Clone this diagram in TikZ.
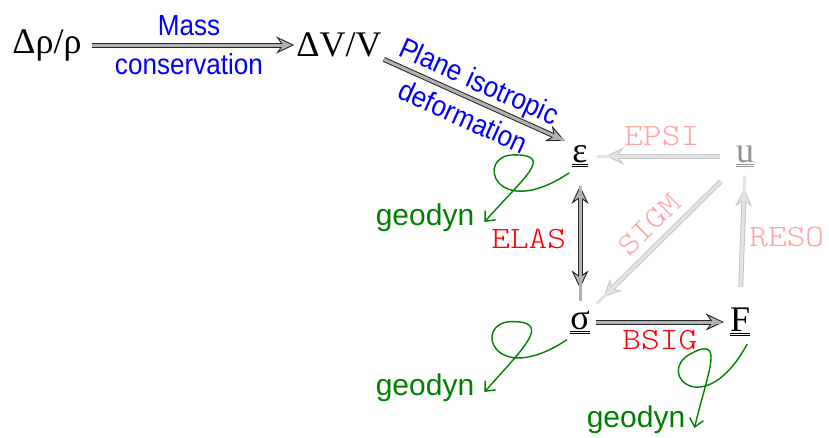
\documentclass[tikz,border=0pt]{standalone}
\usepackage{fontspec}
\setmainfont{Liberation Serif}
\newfontfamily\lblfont[FakeStretch=0.9]{Liberation Sans}
\newfontfamily\geofont{Liberation Sans}
\newfontfamily\codefont[FakeStretch=1.15]{Latin Modern Mono Light}
\usetikzlibrary{arrows.meta}
\definecolor{geogreen}{RGB}{0,128,0}
\definecolor{pinkish}{RGB}{255,165,165}
\tikzset{
  sym/.style={font=\fontsize{36}{40}\selectfont, inner sep=2pt},
  lbl/.style={font=\lblfont\fontsize{29}{39}\selectfont, text=blue, align=center},
  code/.style={font=\codefont\fontsize{31}{36}\selectfont, text=red},
  faintcode/.style={code, text=pinkish},
  darktip/.tip={Stealth[length=18pt,width=17pt,inset=6pt,fill=gray!60,line width=0.9pt]},
  palettip/.tip={Stealth[length=18pt,width=17pt,inset=6pt,fill=gray!22,line width=0.9pt]},
  flow/.style={draw=black!85, line width=5pt, -darktip,
    postaction={draw=gray!60, line width=3pt, -, shorten >=7pt}},
  faint/.style={draw=gray!45, line width=5pt, -palettip,
    postaction={draw=gray!22, line width=3pt, -, shorten >=7pt}},
  geo/.style={draw=geogreen, line width=1.4pt, -{Straight Barb[length=8pt,width=14pt]}},
  geolbl/.style={font=\geofont\fontsize{30}{34}\selectfont, text=geogreen, inner sep=0pt}
}
\newcommand{\dul}[1]{\underline{\underline{#1}}}

\begin{document}
\begin{tikzpicture}[x=1pt,y=-1pt]
\useasboundingbox (0,0) rectangle (829,437);
% quantities
\node[sym] (rho) at (47,45) {Δρ/ρ};
\node[sym] (dv) at (339,45) {ΔV/V};
\node[sym] (eps) at (580,156) {\dul{ε}};
\node[sym,text=gray!85] (u) at (745,156) {\dul{u}};
\node[sym] (sig) at (580,322) {\dul{σ}};
\node[sym] (F) at (740,322) {\dul{F}};
% geodyn
\node[geolbl] (g1) at (425,218) {geodyn};
\node[geolbl] (g2) at (425,388) {geodyn};
\node[geolbl] (g3) at (636,420) {geodyn};
% main chain
\draw[flow,shorten <=8pt] (rho.east) -- (dv.west) node[midway,lbl] {Mass\\conservation};
\draw[flow,shorten >=6pt] (dv.south east) -- (eps.north west)
  node[pos=0.47,sloped,lbl] {Plane isotropic\\deformation};
\draw[flow,darktip-darktip,shorten <=17pt,shorten >=20pt,
  postaction={draw=gray!60, line width=3pt, -, shorten <=24pt, shorten >=27pt}] (eps.south) -- (sig.north)
  node[midway,left=8pt,code] {ELAS};
\draw[flow,shorten <=4pt,shorten >=4pt] (sig.east) -- (F.west) node[midway,below=2pt,code] {BSIG};
% faint ones
\draw[faint,shorten <=14pt,shorten >=16pt] (u.west) -- (eps.east) node[midway,above=4pt,faintcode] {EPSI};
\draw[faint,shorten <=18pt,shorten >=16pt] (u.south west) -- (sig.north east)
  node[midway,sloped,above=4pt,faintcode] {SIGM};
\draw[faint,shorten <=19pt,shorten >=20pt] (F.north) -- (u.south) node[midway,right=1pt,faintcode] {RESO};
% loops
\draw[geo] ([shift={(-1,4)}]eps.south west) .. controls +(-75,50) and +(-40,0) .. ++(-55,-18)
  .. controls +(40,0) and +(40,-45) .. ([shift={(10,4)}]g1.east);
\draw[geo] ([shift={(-1,4)}]sig.south west) .. controls +(-75,50) and +(-40,0) .. ++(-55,-18)
  .. controls +(40,0) and +(40,-45) .. ([shift={(10,4)}]g2.east);
\draw[geo] ([shift={(-5,6)}]F.south east) .. controls +(-43,79) and +(-35,19) .. ++(-57,10)
  .. controls +(35,-19) and +(14,-58) .. ([shift={(9,8)}]g3.east);
\end{tikzpicture}
\end{document}
